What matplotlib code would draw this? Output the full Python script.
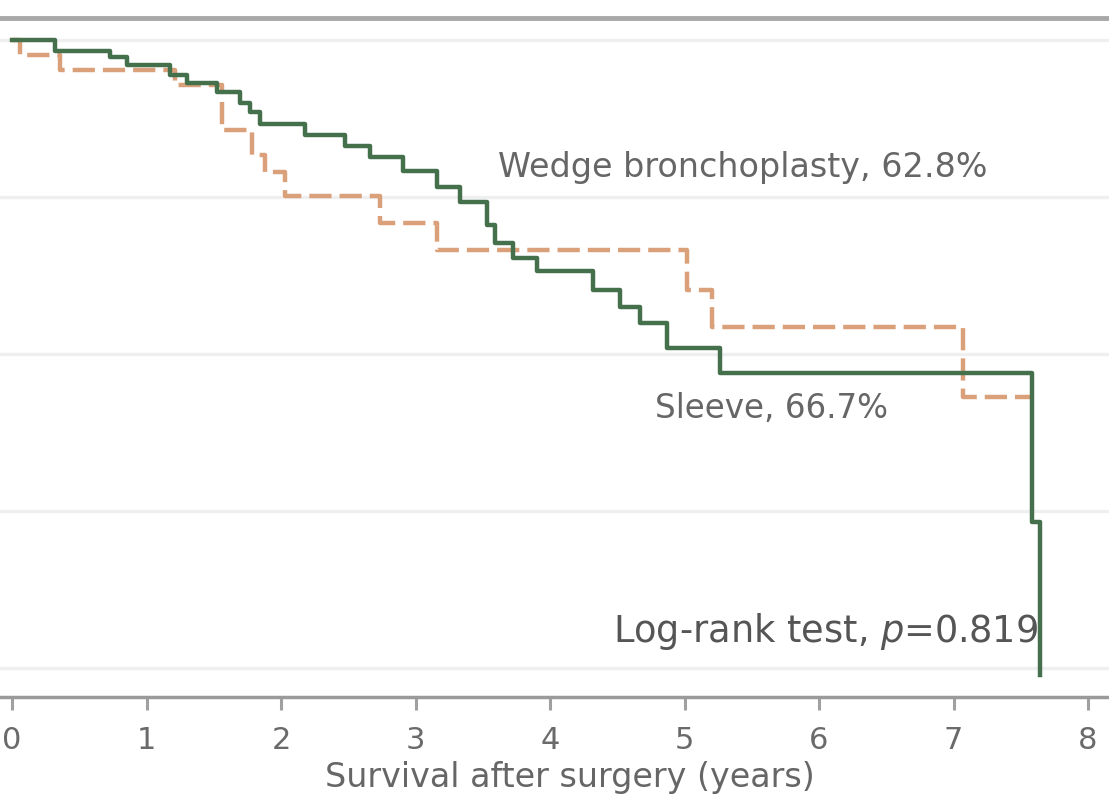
import matplotlib
matplotlib.use("Agg")
import matplotlib.pyplot as plt

plt.rcParams['font.family'] = ['DejaVu Sans']
plt.rcParams['mathtext.fontset'] = 'dejavusans'

# Sleeve (solid green) Kaplan-Meier steps
sleeve_t = [0, 0.320, 0.729, 0.855, 1.175, 1.301, 1.524, 1.695, 1.770, 1.844,
            2.178, 2.476, 2.662, 2.907, 3.160, 3.331, 3.532, 3.591, 3.725, 3.903,
            4.320, 4.520, 4.669, 4.870, 5.264, 7.584, 7.643]
sleeve_s = [1.000, 0.986, 0.978, 0.968, 0.955, 0.945, 0.934, 0.920, 0.908, 0.893,
            0.879, 0.865, 0.851, 0.833, 0.813, 0.794, 0.764, 0.741, 0.722, 0.706,
            0.682, 0.660, 0.639, 0.608, 0.576, 0.386, 0.191]

# Wedge bronchoplasty (dashed orange) Kaplan-Meier steps
wedge_t = [0, 0.06, 0.357, 1.212, 1.561, 1.784, 1.881, 2.030, 2.736, 3.160,
           5.019, 5.204, 7.071, 7.584]
wedge_s = [1.000, 0.981, 0.962, 0.943, 0.885, 0.854, 0.832, 0.801, 0.767, 0.732,
           0.682, 0.634, 0.545, 0.545]

x_ticks = [0, 1, 2, 3, 4, 5, 6, 7, 8]
x_ticklabels = ["0", "1", "2", "3", "4", "5", "6", "7", "8"]
grid_levels = [0.2, 0.4, 0.6, 0.8, 1.0]

label_wedge = "Wedge bronchoplasty, 62.8%"
label_sleeve = "Sleeve, 66.7%"
label_test = "Log-rank test, $p$=0.819"
x_title = "Survival after surgery (years)"

fig = plt.figure(figsize=(11.09, 8.0), dpi=100)
ax = fig.add_axes([0.0, 0.12875, 1.0, 0.84875])
ax.set_xlim(-0.0892, 8.156)
ax.set_ylim(0.163, 1.028)

for g in grid_levels:
    ax.axhline(g, color="#efefef", lw=2.4, zorder=0)

ax.step(wedge_t, wedge_s, where="post", color="#daa07a", lw=3.2,
        dashes=(5, 1.8), zorder=3)
ax.step(sleeve_t, sleeve_s, where="post", color="#44704c", lw=3.2, zorder=4)

for s in ["left", "right"]:
    ax.spines[s].set_visible(False)
ax.spines["top"].set_color("#a8a8a8")
ax.spines["top"].set_linewidth(3.5)
ax.spines["bottom"].set_color("#9a9a9a")
ax.spines["bottom"].set_linewidth(2.5)

ax.set_yticks([])
ax.set_xticks(x_ticks)
ax.set_xticklabels(x_ticklabels)
ax.tick_params(axis="x", direction="out", length=9, width=2.2, color="#a0a0a0",
               labelsize=22, labelcolor="#6a6a6a", pad=12)
ax.set_xlabel(x_title, fontsize=24, color="#666666", labelpad=0)
ax.xaxis.label.set_va("center")
ax.xaxis.set_label_coords(570 / 1109, -(778 - 697) / 679)

ax.text(5.43, 0.838, label_wedge, fontsize=24, color="#666666", ha="center", va="center")
ax.text(5.65, 0.53, label_sleeve, fontsize=23.5, color="#666666", ha="center", va="center")
ax.text(6.05, 0.247, label_test, fontsize=26.5, color="#555555", ha="center", va="center")

fig.savefig("out.png", dpi=100, facecolor="white")
